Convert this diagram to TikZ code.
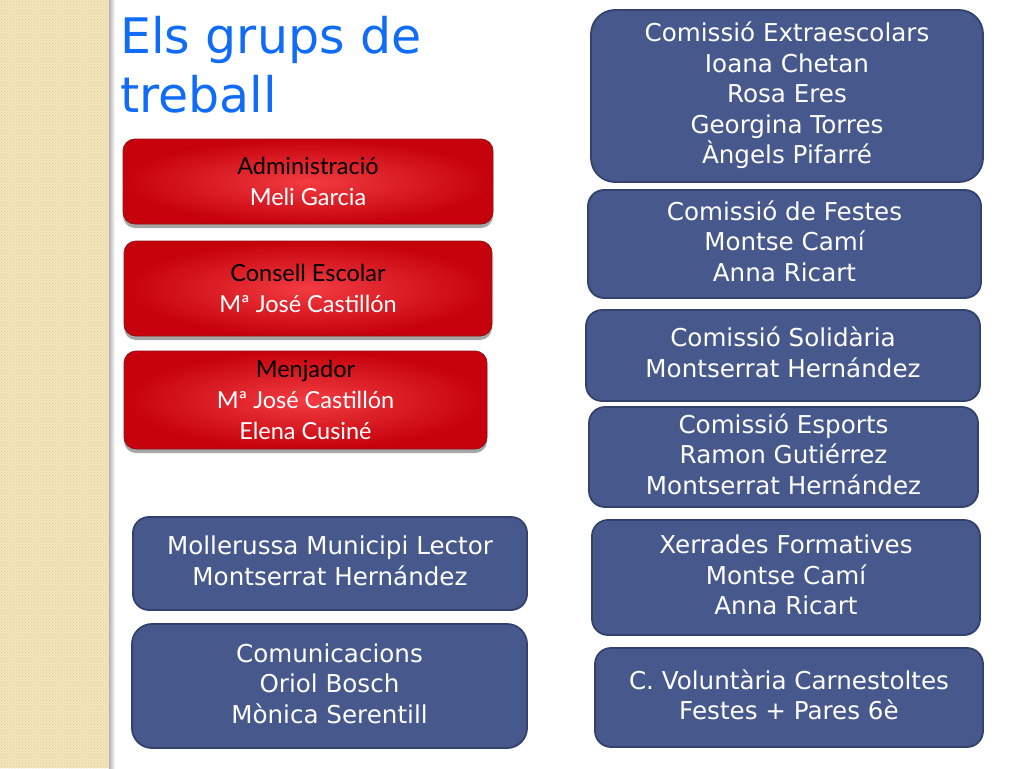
\documentclass[tikz,border=0pt]{standalone}
\usepackage{fontspec}
\newfontfamily\bluefont{DejaVu Sans}
\newfontfamily\redfont{Lato}
\usetikzlibrary{shadows,patterns}
\definecolor{beige}{RGB}{244,230,188}
\definecolor{beigedot}{RGB}{222,202,146}
\definecolor{titleblue}{RGB}{16,108,246}
\definecolor{boxblue}{RGB}{71,89,140}
\definecolor{boxblueedge}{RGB}{50,66,108}
\definecolor{redA}{RGB}{198,2,12}
\definecolor{redB}{RGB}{242,60,66}
\definecolor{rededge}{RGB}{140,20,24}
\begin{document}
\begin{tikzpicture}[x=1pt,y=-1pt,
  bluebox/.style={draw=boxblueedge, line width=1.8pt, fill=boxblue, rounded corners=16pt, inner sep=0pt},
  bluetext/.style={text=white, align=center, font=\bluefont\fontsize{24.6}{30.5}\selectfont, inner sep=0pt},
  redbox/.style={draw=rededge, line width=0.8pt, rounded corners=12pt,
    inner color=redB, outer color=redA, text=white, align=center,
    font=\redfont\fontsize{23.5}{31}\selectfont, inner sep=0pt,
    drop shadow={shadow xshift=0pt, shadow yshift=-4pt, opacity=0.35, fill=black}},
  titletext/.style={text=titleblue, font=\bluefont\fontsize{49}{59}\selectfont, inner sep=0pt}
]
\useasboundingbox (0,0) rectangle (1024,768);
\fill[white] (0,0) rectangle (1024,768);
% left strip
\fill[beige] (0,0) rectangle (110,768);
\fill[pattern=crosshatch dots, pattern color=beigedot] (0,0) rectangle (110,768);
\shade[left color=black!30, right color=white] (109,0) rectangle (115,768);

% title
\node[titletext, anchor=base west] (t1) at (120,53) {Els grups de};
\node[titletext, anchor=base west] (t2) at (120,112) {treball};

% red boxes
\node[redbox, minimum width=370, minimum height=85] (adm) at (308,181.5)
  {\textcolor{black}{Administració}\\Meli Garcia};
\node[redbox, minimum width=368, minimum height=95] (con) at (308,288.5)
  {\textcolor{black}{Consell Escolar}\\Mª José Castillón};
\node[redbox, minimum width=363, minimum height=98] (men) at (305.5,400)
  {\textcolor{black}{Menjador}\\Mª José Castillón\\Elena Cusiné};

% left blue boxes
\node[bluebox, minimum width=394, minimum height=93] (mol) at (330,563.5) {};
\node[bluetext] (molT) at ([yshift=2.5pt]mol.center) {Mollerussa Municipi Lector\\Montserrat Hernández};
\node[bluebox, minimum width=395, minimum height=124, rounded corners=20pt] (com) at (329.5,686) {};
\node[bluetext] (comT) at ([yshift=2.5pt]com.center) {Comunicacions\\Oriol Bosch\\Mònica Serentill};

% right blue boxes
\node[bluebox, minimum width=392, minimum height=172, rounded corners=24pt] (ext) at (787,96) {};
\node[bluetext] (extT) at ([yshift=0.5pt]ext.center) {Comissió Extraescolars\\Ioana Chetan\\Rosa Eres\\Georgina Torres\\Àngels Pifarré};
\node[bluebox, minimum width=393, minimum height=108] (fes) at (784.5,244) {};
\node[bluetext] (fesT) at ([yshift=3pt]fes.center) {Comissió de Festes\\Montse Camí\\Anna Ricart};
\node[bluebox, minimum width=394, minimum height=91] (sol) at (783,355.5) {};
\node[bluetext] (solT) at ([yshift=3pt]sol.center) {Comissió Solidària\\Montserrat Hernández};
\node[bluebox, minimum width=389, minimum height=100] (esp) at (783.5,457) {};
\node[bluetext] (espT) at ([yshift=3pt]esp.center) {Comissió Esports\\Ramon Gutiérrez\\Montserrat Hernández};
\node[bluebox, minimum width=388, minimum height=115] (xer) at (786,577.5) {};
\node[bluetext] (xerT) at ([yshift=2.5pt]xer.center) {Xerrades Formatives\\Montse Camí\\Anna Ricart};
\node[bluebox, minimum width=388, minimum height=99] (vol) at (789,697.5) {};
\node[bluetext] (volT) at ([yshift=2.5pt]vol.center) {C. Voluntària Carnestoltes\\Festes + Pares 6è};
\end{tikzpicture}
\end{document}
